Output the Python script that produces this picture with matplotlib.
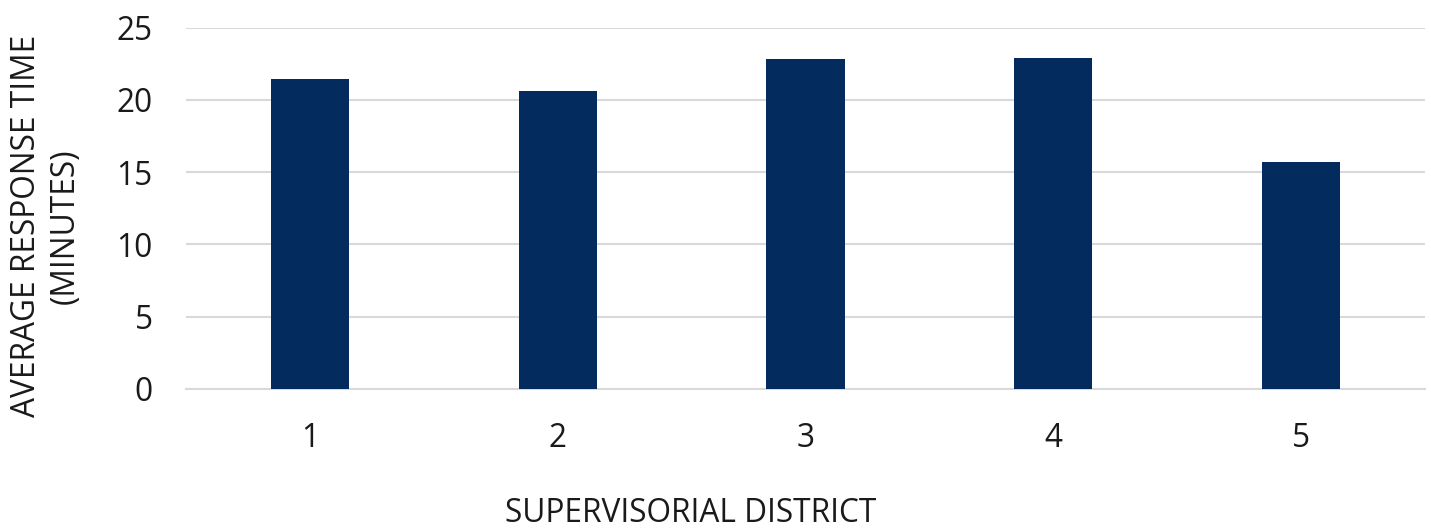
import numpy as np
import matplotlib.pyplot as plt

plt.rcParams["font.family"] = ["Open Sans", "DejaVu Sans"]

# data
districts = ["1", "2", "3", "4", "5"]
avg_response = [21.45, 20.6, 22.83, 22.9, 15.7]
y_ticks = [0, 5, 10, 15, 20, 25]

bar_color = "#032B5D"
grid_color = "#D9D9D9"
text_color = "#1A1A1A"
fs = 22.8

fig = plt.figure(figsize=(14.31, 5.29), dpi=100)
ax = fig.add_axes([0.13, 0.2647, 0.8658, 0.6829])

x = np.arange(len(districts))
ax.bar(x, avg_response, width=0.315, color=bar_color, zorder=3)

ax.set_xlim(-0.5, len(districts) - 0.5)
ax.set_ylim(0, 25)
ax.set_yticks(y_ticks)
ax.set_xticks(x)
ax.set_xticklabels(districts)
ax.yaxis.grid(True, color=grid_color, linewidth=1.5, zorder=0)
ax.set_axisbelow(True)

for s in ["top", "right", "left"]:
    ax.spines[s].set_visible(False)
ax.spines["bottom"].set_color(grid_color)
ax.spines["bottom"].set_linewidth(1.5)

ax.tick_params(axis="both", length=0, labelsize=fs, colors=text_color)
ax.tick_params(axis="x", pad=24)
ax.tick_params(axis="y", pad=24)

# axis titles placed in figure pixels, as in the original layout
W, H = 1431, 529
fig.text(691 / W, 1 - 514 / H, "SUPERVISORIAL DISTRICT", fontsize=fs,
         color=text_color, ha="center", va="center")
fig.text(46 / W, 1 - 226 / H, "AVERAGE RESPONSE TIME\n(MINUTES)", fontsize=fs,
         color=text_color, ha="center", va="center", rotation=90,
         linespacing=1.2, multialignment="center")

fig.savefig("out.png", dpi=100)
